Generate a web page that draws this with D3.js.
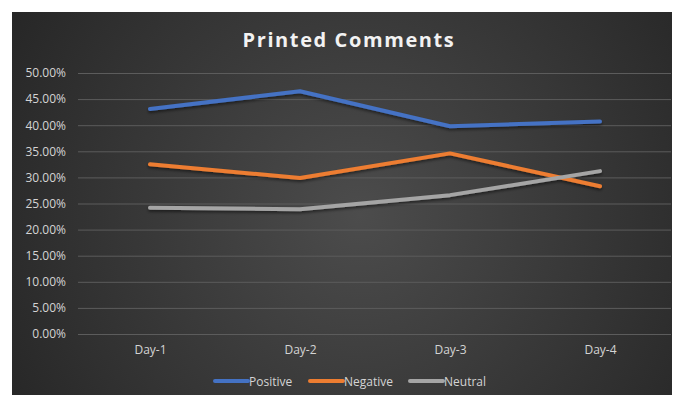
<!DOCTYPE html>
<html>
<head>
<meta charset="utf-8">
<script src="https://cdn.jsdelivr.net/npm/d3@7"></script>
<style>
  html, body { margin: 0; padding: 0; background: #ffffff; }
  svg { display: block; }
</style>
</head>
<body>
<svg id="chart" width="675" height="395"></svg>
<script>
const categories = ["Day-1", "Day-2", "Day-3", "Day-4"];
const positive = [0.431, 0.465, 0.398, 0.407];
const negative = [0.325, 0.299, 0.346, 0.283];
const neutral  = [0.242, 0.239, 0.266, 0.312];
const yTicks = [0, 0.05, 0.10, 0.15, 0.20, 0.25, 0.30, 0.35, 0.40, 0.45, 0.50];
const seriesNames = ["Positive", "Negative", "Neutral"];
const seriesColors = ["#4472C4", "#ED7D31", "#A5A5A5"];
const seriesValues = [positive, negative, neutral];

const svg = d3.select("#chart");
const frame = {x: 12, y: 12, w: 660, h: 383};
const plot = {left: 76, right: 672, top: 73, bottom: 334};

const defs = svg.append("defs");
const grad = defs.append("radialGradient")
  .attr("id", "bg").attr("gradientUnits", "userSpaceOnUse")
  .attr("cx", 360).attr("cy", 215).attr("r", 420);
grad.append("stop").attr("offset", "0%").attr("stop-color", "#4c4c4c");
grad.append("stop").attr("offset", "100%").attr("stop-color", "#252525");

const glow = defs.append("filter").attr("id", "shadow")
  .attr("x", "-10%").attr("y", "-30%").attr("width", "120%").attr("height", "160%");
glow.append("feGaussianBlur").attr("in", "SourceAlpha").attr("stdDeviation", 1.5).attr("result", "b");
glow.append("feOffset").attr("in", "b").attr("dx", 0).attr("dy", 1.5).attr("result", "o");
glow.append("feComponentTransfer").attr("in", "o").attr("result", "o2")
  .append("feFuncA").attr("type", "linear").attr("slope", 0.5);
const merge = glow.append("feMerge");
merge.append("feMergeNode").attr("in", "o2");
merge.append("feMergeNode").attr("in", "SourceGraphic");

svg.append("rect")
  .attr("x", frame.x).attr("y", frame.y)
  .attr("width", frame.w).attr("height", frame.h)
  .attr("fill", "url(#bg)");

const x = d3.scalePoint().domain(categories)
  .range([plot.left + 74, plot.right - 72]);
const y = d3.scaleLinear().domain([0, 0.5]).range([plot.bottom, plot.top]);

// gridlines
svg.append("g").selectAll("line").data(yTicks).join("line")
  .attr("x1", plot.left + 2).attr("x2", plot.right - 1)
  .attr("y1", d => y(d) + 0.5).attr("y2", d => y(d) + 0.5)
  .attr("stroke", "#5c5c5c").attr("stroke-width", 1);

// y axis labels
const yAxis = d3.axisLeft(y).tickValues(yTicks)
  .tickFormat(d3.format(".2%")).tickSize(0).tickPadding(0);
const gy = svg.append("g").attr("transform", `translate(${plot.left - 10},0)`).call(yAxis);
gy.select(".domain").remove();
gy.selectAll("text")
  .attr("fill", "#d4d4d4")
  .style("font-family", "'Open Sans', sans-serif")
  .style("font-size", "12px");

// x axis labels
const xAxis = d3.axisBottom(x).tickSize(0).tickPadding(0);
const gx = svg.append("g").attr("transform", `translate(0,${plot.bottom + 11})`).call(xAxis);
gx.select(".domain").remove();
gx.selectAll("text")
  .attr("fill", "#d4d4d4")
  .style("font-family", "'Open Sans', sans-serif")
  .style("font-size", "12px");

// lines
const line = d3.line().x((d, i) => x(categories[i])).y(d => y(d));
svg.append("g").attr("filter", "url(#shadow)")
  .selectAll("path").data(seriesValues).join("path")
  .attr("d", d => line(d))
  .attr("fill", "none")
  .attr("stroke", (d, i) => seriesColors[i])
  .attr("stroke-width", 4)
  .attr("stroke-linejoin", "round")
  .attr("stroke-linecap", "round");

// title
svg.append("text")
  .attr("x", 349).attr("y", 47)
  .attr("text-anchor", "middle")
  .attr("fill", "#f2f2f2")
  .style("font-family", "'Open Sans', sans-serif")
  .style("font-weight", "700")
  .style("font-size", "20px")
  .style("letter-spacing", "1.6px")
  .text("Printed Comments");

// legend
const legendX = [215, 310, 410];
const lg = svg.append("g").selectAll("g").data(seriesNames).join("g")
  .attr("transform", (d, i) => `translate(${legendX[i]},381)`);
lg.append("line")
  .attr("x1", 0).attr("x2", 33).attr("y1", 0).attr("y2", 0)
  .attr("stroke", (d, i) => seriesColors[i])
  .attr("stroke-width", 4).attr("stroke-linecap", "round");
lg.append("text")
  .attr("x", 34).attr("y", 4.5)
  .attr("fill", "#d4d4d4")
  .style("font-family", "'Open Sans', sans-serif")
  .style("font-size", "12px")
  .text(d => d);
</script>
</body>
</html>
